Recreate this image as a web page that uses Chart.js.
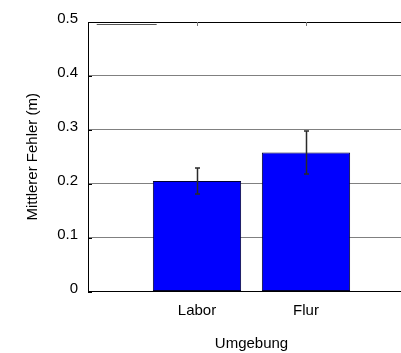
<!DOCTYPE html>
<html>
<head>
<meta charset="utf-8">
<script src="https://cdn.jsdelivr.net/npm/chart.js@4/dist/chart.umd.min.js"></script>
<style>
  html, body { margin: 0; padding: 0; background: #fff; overflow: hidden; }
  #wrap { position: absolute; left: 0; top: 0; width: 440px; height: 353px; }
</style>
</head>
<body>
<div id="wrap"><canvas id="c"></canvas></div>
<script>
// Mean localisation error per environment, with spread
const categories = ['Labor', 'Flur'];
const meanError = [0.205, 0.258];
const errorSpread = [0.024, 0.040];
const yTicks = [0, 0.1, 0.2, 0.3, 0.4, 0.5];

const FONT = 'Arial, "Liberation Sans", sans-serif';

// error bars over each bar
const errorBars = {
  id: 'errorBars',
  afterDatasetsDraw(chart) {
    const meta = chart.getDatasetMeta(0);
    const y = chart.scales.y;
    const ctx = chart.ctx;
    ctx.save();
    ctx.strokeStyle = '#2a2a2a';
    ctx.lineWidth = 1.5;
    meta.data.forEach((bar, i) => {
      const top = y.getPixelForValue(meanError[i] + errorSpread[i]);
      const bot = y.getPixelForValue(meanError[i] - errorSpread[i]);
      const x = Math.round(bar.x) + 0.5;
      ctx.beginPath();
      ctx.moveTo(x, top); ctx.lineTo(x, bot);
      ctx.moveTo(x - 2.5, top); ctx.lineTo(x + 2.5, top);
      ctx.moveTo(x - 2.5, bot); ctx.lineTo(x + 2.5, bot);
      ctx.stroke();
    });
    ctx.restore();
  }
};

// box outline, inward tick marks and the short stub line in the top-left corner
const frame = {
  id: 'frame',
  afterDraw(chart) {
    const {ctx, chartArea: a, scales: {x, y}} = chart;
    ctx.save();
    ctx.strokeStyle = '#000';
    ctx.lineWidth = 1;
    const top = Math.round(a.top) + 0.5;
    ctx.beginPath();
    ctx.moveTo(a.left, top); ctx.lineTo(a.right, top);
    ctx.stroke();
    // left inward ticks
    ctx.beginPath();
    yTicks.forEach(v => {
      const py = Math.round(y.getPixelForValue(v)) + 0.5;
      ctx.moveTo(a.left, py); ctx.lineTo(a.left + 4, py);
    });
    ctx.stroke();
    // top inward ticks at the categories
    ctx.strokeStyle = '#777';
    ctx.beginPath();
    categories.forEach((c, i) => {
      const px = Math.round(x.getPixelForValue(i + 1)) + 0.5;
      ctx.moveTo(px, a.top); ctx.lineTo(px, a.top + 4);
    });
    ctx.stroke();
    // stub line
    ctx.strokeStyle = '#555';
    const sy = Math.round(y.getPixelForValue(0.496)) + 0.5;
    ctx.beginPath();
    ctx.moveTo(x.getPixelForValue(0.08), sy);
    ctx.lineTo(x.getPixelForValue(0.63), sy);
    ctx.stroke();
    ctx.restore();
  }
};

new Chart(document.getElementById('c'), {
  type: 'bar',
  data: {
    datasets: [{
      data: categories.map((c, i) => ({ x: i + 1, y: meanError[i] })),
      backgroundColor: '#0000ff',
      borderColor: '#000033',
      borderWidth: 1,
      borderSkipped: false,
      categoryPercentage: 1,
      barPercentage: 0.81
    }]
  },
  options: {
    responsive: true,
    maintainAspectRatio: false,
    animation: false,
    events: [],
    layout: { padding: { top: 22, right: 25, left: 0, bottom: 0 } },
    plugins: { legend: { display: false }, tooltip: { enabled: false } },
    scales: {
      x: {
        type: 'linear',
        offset: false,
        min: 0,
        max: 3,
        afterBuildTicks(scale) {
          scale.ticks = [0, 1, 2, 3].map(v => ({ value: v }));
        },
        afterFit(scale) { scale.height = 61.5; },
        grid: { display: false, drawTicks: false, offset: false },
        border: { display: true, color: '#000', width: 1 },
        ticks: {
          padding: 10,
          color: '#000',
          font: { family: FONT, size: 15 },
          callback: v => categories[v - 1] || ''
        },
        title: {
          display: true,
          text: 'Umgebung',
          color: '#000',
          font: { family: FONT, size: 15 },
          padding: { top: 0, bottom: 0 }
        }
      },
      y: {
        min: 0,
        max: 0.5,
        afterBuildTicks(scale) {
          scale.ticks = yTicks.map(v => ({ value: v }));
        },
        afterFit(scale) { scale.width = 88; },
        grid: { color: '#808080', lineWidth: 1, drawTicks: false },
        border: { display: true, color: '#000', width: 1 },
        ticks: {
          padding: 10,
          labelOffset: -3,
          color: '#000',
          font: { family: FONT, size: 15 },
          callback: v => (v === 0 ? '0' : v.toFixed(1))
        },
        title: {
          display: true,
          text: 'Mittlerer Fehler (m)',
          color: '#000',
          font: { family: FONT, size: 15 },
          padding: { top: 24, bottom: 0 }
        }
      }
    }
  },
  plugins: [errorBars, frame]
});
</script>
</body>
</html>
